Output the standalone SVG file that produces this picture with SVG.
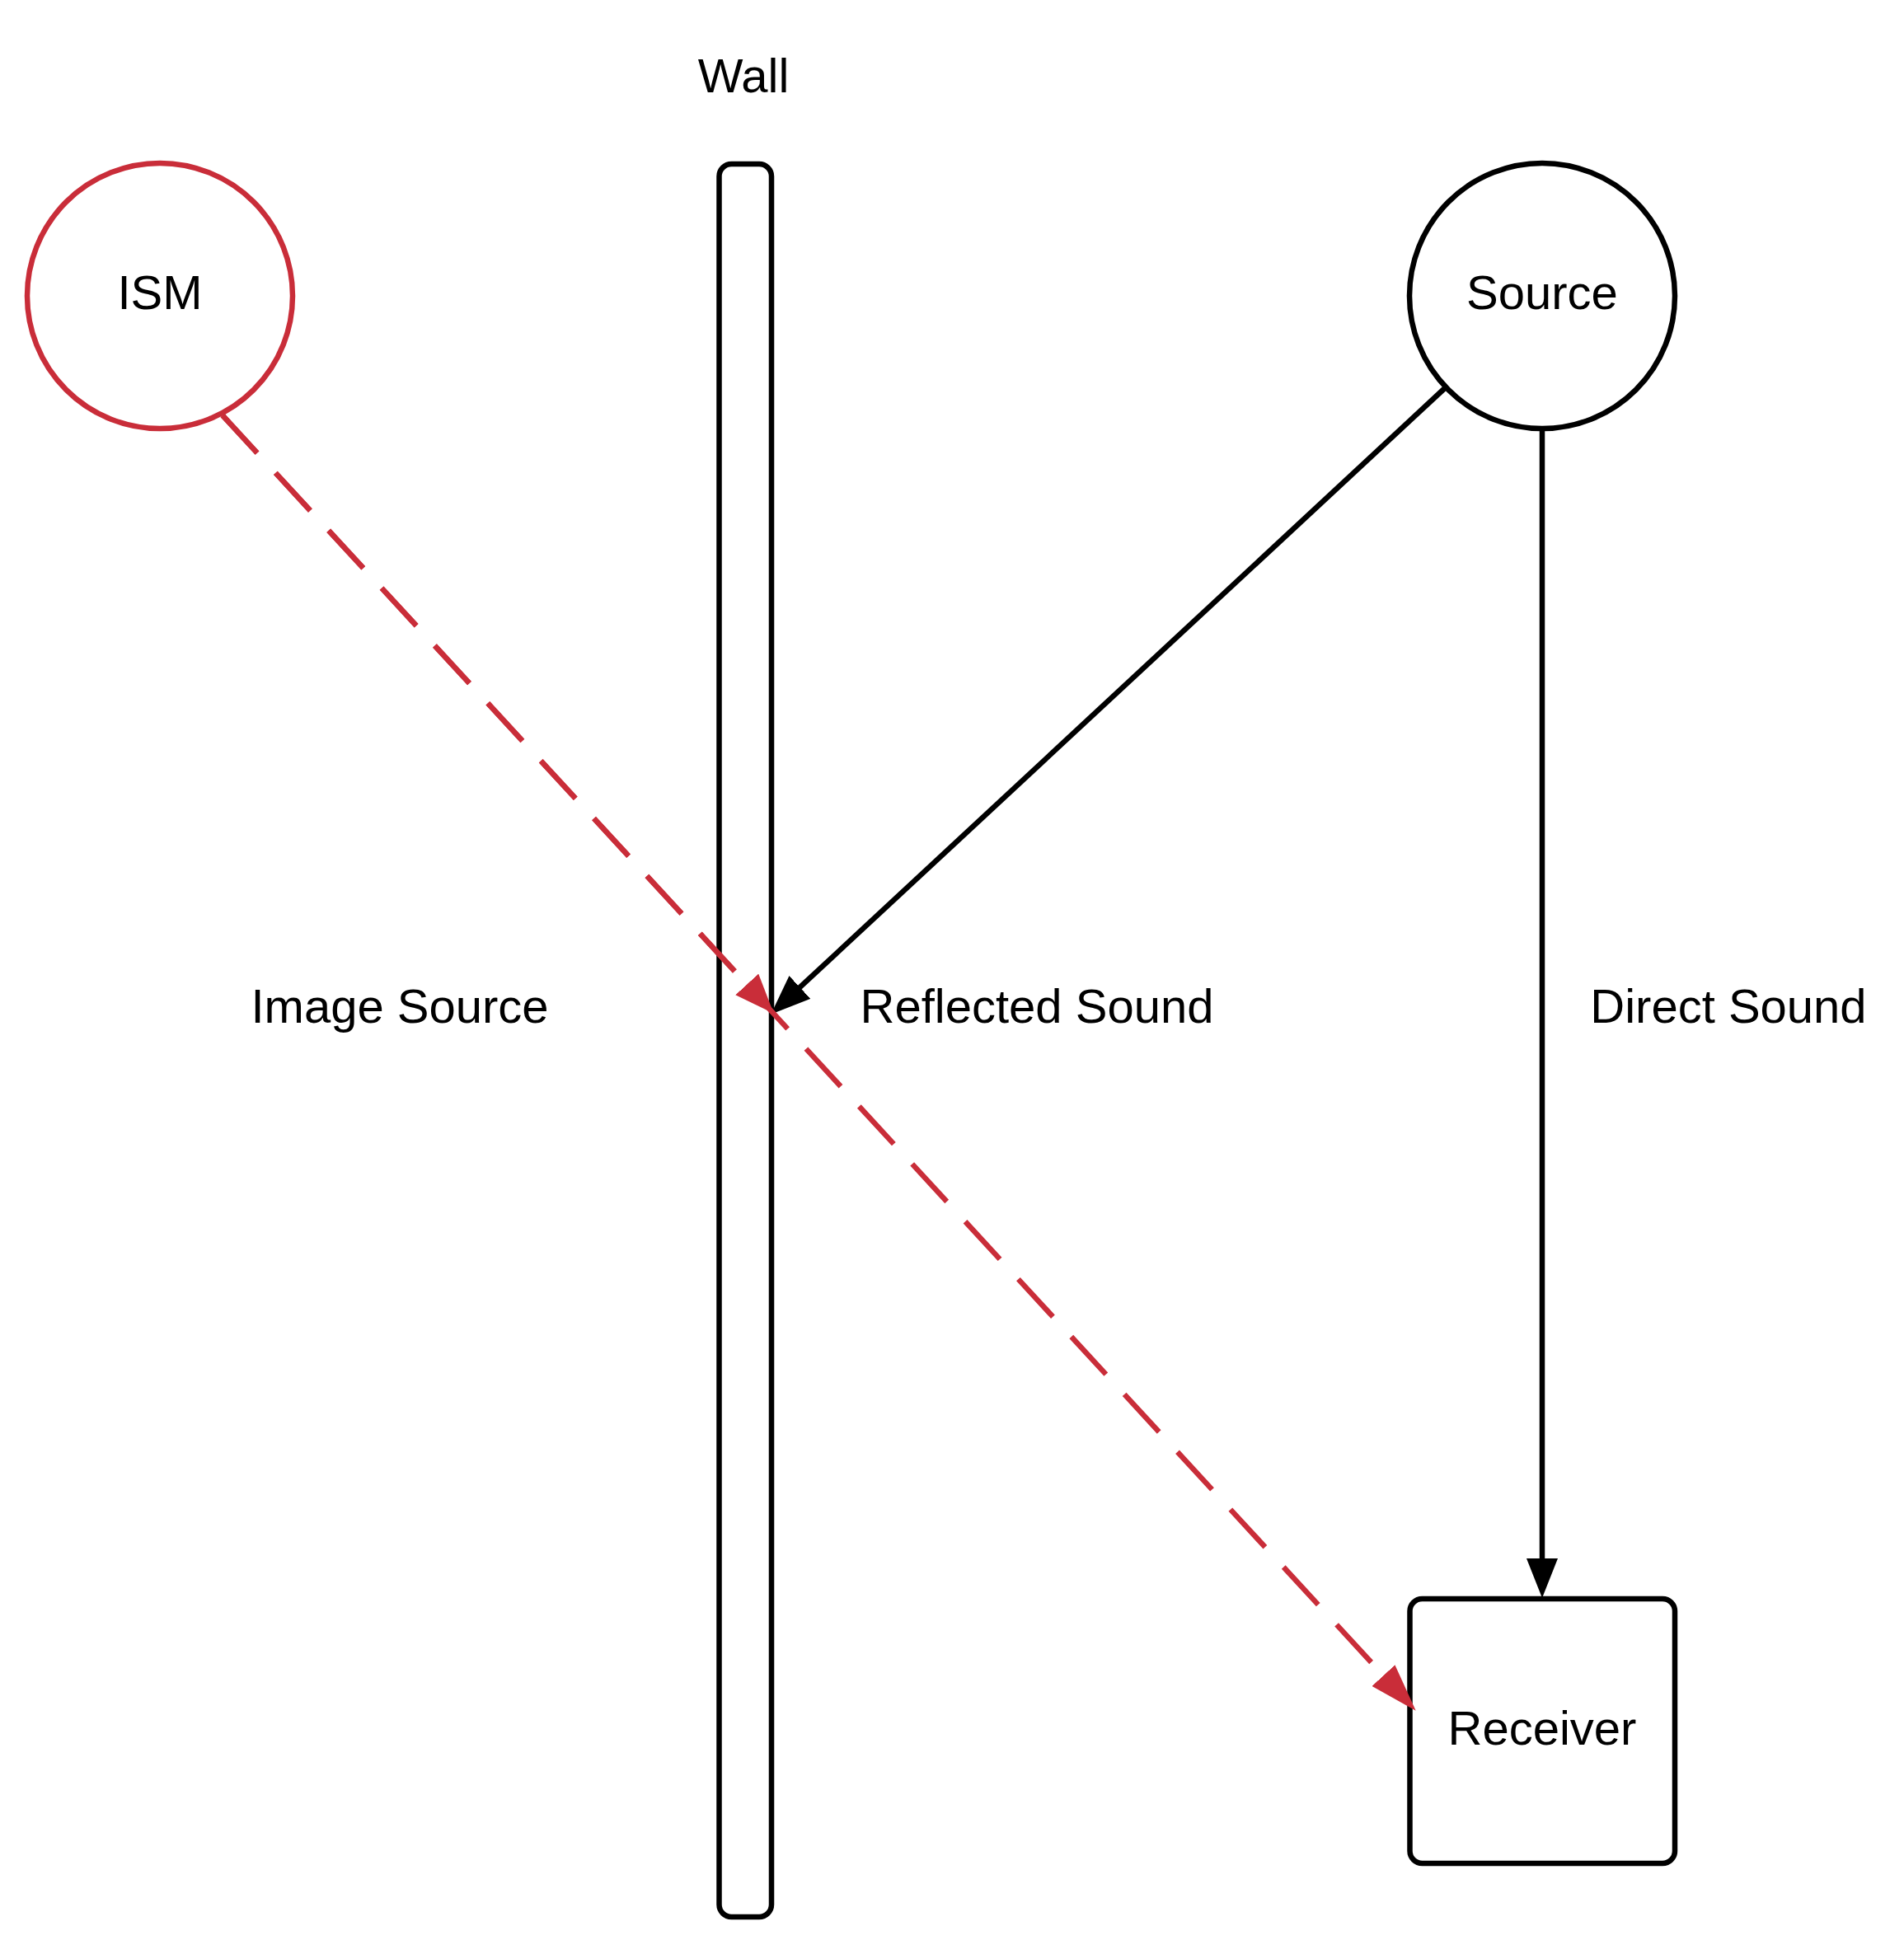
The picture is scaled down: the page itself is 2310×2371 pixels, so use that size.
<svg xmlns="http://www.w3.org/2000/svg" width="2310" height="2371" viewBox="0 0 2310 2371">
  <style>
    .lbl { font-family: "Liberation Sans", Arial, sans-serif; font-size: 58px; fill: #000; text-anchor: middle; }
    .shape { fill: #fff; stroke: #000; stroke-width: 6.5; }
    .red { stroke: #c92d39; }
    .conn { fill: none; stroke: #000; stroke-width: 6.5; }
    .dash { fill: none; stroke: #c92d39; stroke-width: 6.5; stroke-dasharray: 62 33; }
  </style>
  <defs>
    <marker id="ah-black" markerUnits="userSpaceOnUse" viewBox="0 0 48 38" markerWidth="48" markerHeight="38" refX="1" refY="19" orient="auto">
      <path d="M0,0 L48,19 L0,38 Z" fill="#000"/>
    </marker>
    <marker id="ah-red" markerUnits="userSpaceOnUse" viewBox="0 0 48 38" markerWidth="48" markerHeight="38" refX="1" refY="19" orient="auto">
      <path d="M0,0 L48,19 L0,38 Z" fill="#c92d39"/>
    </marker>
    <marker id="ah-red-long" markerUnits="userSpaceOnUse" viewBox="0 0 58 38" markerWidth="58" markerHeight="38" refX="1" refY="19" orient="auto">
      <path d="M0,0 L58,19 L0,38 Z" fill="#c92d39"/>
    </marker>
  </defs>
  <rect width="2310" height="2371" fill="#fff"/>

  <g id="wall">
    <rect class="shape" x="872.5" y="199" width="63.5" height="2127" rx="15" ry="15"/>
  </g>
  <g id="wall-label">
    <text class="lbl" x="902" y="112">Wall</text>
  </g>

  <g id="ism">
    <circle class="shape red" cx="194" cy="359" r="161"/>
    <text class="lbl" x="194" y="375">ISM</text>
  </g>

  <g id="source">
    <circle class="shape" cx="1871" cy="359" r="161"/>
    <text class="lbl" x="1871" y="375">Source</text>
  </g>

  <g id="receiver">
    <rect class="shape" x="1710.5" y="1940" width="321.5" height="321" rx="15" ry="15"/>
    <text class="lbl" x="1871" y="2117">Receiver</text>
  </g>

  <g id="connectors">
    <path class="conn" d="M1871,520 L1871,1892" marker-end="url(#ah-black)"/>
    <path class="conn" d="M1754,470 L969.7,1198.7" marker-end="url(#ah-black)"/>
    <path class="dash" d="M270,504 L1679.1,2033.8" marker-end="url(#ah-red-long)"/>
    <path class="dash" d="M270,504 L906.9,1195.2" marker-end="url(#ah-red)"/>
  </g>

  <g id="labels">
    <text class="lbl" x="485" y="1241">Image Source</text>
    <text class="lbl" x="1258" y="1241">Reflected Sound</text>
    <text class="lbl" x="2097" y="1241">Direct Sound</text>
  </g>
</svg>
